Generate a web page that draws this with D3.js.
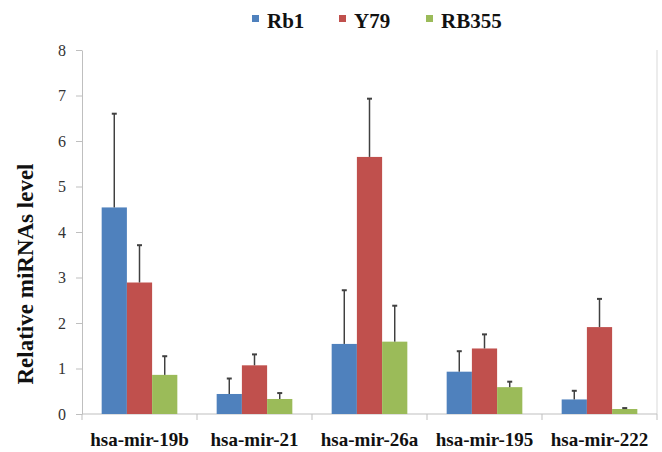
<!DOCTYPE html>
<html><head><meta charset="utf-8">
<script src="https://cdn.jsdelivr.net/npm/d3@7"></script>
<style>body{margin:0;background:#fff}svg{display:block}
svg text{font-family:"Liberation Serif","Times New Roman",serif;}
</style>
</head><body>
<svg id="c" width="662" height="452"></svg>
<script>
const categories = ["hsa-mir-19b","hsa-mir-21","hsa-mir-26a","hsa-mir-195","hsa-mir-222"];
const seriesNames = ["Rb1","Y79","RB355"];
const rb1 = [4.54, 0.44, 1.54, 0.93, 0.32];
const y79 = [2.89, 1.07, 5.65, 1.44, 1.91];
const rb355 = [0.86, 0.33, 1.59, 0.59, 0.11];
const rb1Err = [2.06, 0.34, 1.18, 0.45, 0.19];
const y79Err = [0.82, 0.24, 1.28, 0.31, 0.62];
const rb355Err = [0.41, 0.13, 0.79, 0.12, 0.02];
const yTicks = [0,1,2,3,4,5,6,7,8];
const colors = ["#4F81BD","#C0504D","#9BBB59"];

const series = [rb1, y79, rb355];
const errs = [rb1Err, y79Err, rb355Err];

const svg = d3.select("#c");
const m = {l:82, r:5, t:50, b:38};
const W = 662, H = 452;
const x0 = d3.scaleBand().domain(categories).range([m.l, W - m.r]).paddingInner(0).paddingOuter(0);
const x1 = d3.scaleBand().domain(seriesNames).range([0, x0.bandwidth()]).paddingInner(0).paddingOuter(0.78);
const y = d3.scaleLinear().domain([0, 8]).range([H - m.b, m.t]);

svg.append("line").attr("x1", W - m.r).attr("x2", W - m.r).attr("y1", y(8)).attr("y2", y(0))
  .attr("stroke", "#d9d9d9").attr("stroke-width", 1);

const ya = svg.append("g").attr("transform", `translate(${m.l},0)`)
  .call(d3.axisLeft(y).tickValues(yTicks).tickSize(6).tickSizeOuter(0).tickPadding(10));
ya.attr("font-family", null);
ya.select(".domain").attr("stroke", "#bfbfbf");
ya.selectAll(".tick line").attr("stroke", "#bfbfbf");
ya.selectAll("text").attr("font-size", 16).attr("fill", "#333");

const boundaries = categories.map((c) => x0(c)).concat([W - m.r]);
svg.append("line").attr("x1", m.l).attr("x2", W - m.r).attr("y1", y(0)).attr("y2", y(0))
  .attr("stroke", "#bfbfbf");
svg.selectAll(".xt").data(boundaries).enter().append("line")
  .attr("x1", d => d).attr("x2", d => d).attr("y1", y(0)).attr("y2", y(0) + 6)
  .attr("stroke", "#bfbfbf");
svg.selectAll(".xl").data(categories).enter().append("text")
  .attr("x", d => x0(d) + x0.bandwidth() / 2).attr("y", 446)
  .attr("text-anchor", "middle").attr("font-weight", "bold")
  .attr("font-size", 19).attr("fill", "#111").text(d => d);

seriesNames.forEach((s, si) => {
  const g = svg.append("g");
  g.selectAll("rect").data(categories).enter().append("rect")
    .attr("x", c => x0(c) + x1(s)).attr("width", x1.bandwidth())
    .attr("y", (c, i) => y(series[si][i])).attr("height", (c, i) => y(0) - y(series[si][i]))
    .attr("fill", colors[si]);
  const cx = c => x0(c) + x1(s) + x1.bandwidth() / 2;
  g.selectAll(".ev").data(categories).enter().append("line")
    .attr("x1", cx).attr("x2", cx)
    .attr("y1", (c, i) => y(series[si][i])).attr("y2", (c, i) => y(series[si][i] + errs[si][i]))
    .attr("stroke", "#404040").attr("stroke-width", 1.5);
  g.selectAll(".ec").data(categories).enter().append("line")
    .attr("x1", c => cx(c) - 2.5).attr("x2", c => cx(c) + 2.5)
    .attr("y1", (c, i) => y(series[si][i] + errs[si][i])).attr("y2", (c, i) => y(series[si][i] + errs[si][i]))
    .attr("stroke", "#404040").attr("stroke-width", 2);
});

svg.append("text").attr("transform", `translate(33,274) rotate(-90)`)
  .attr("text-anchor", "middle").attr("font-weight", "bold")
  .attr("font-size", 23).attr("fill", "#111").text("Relative miRNAs level");

const legX = [252, 339, 426];
const leg = svg.append("g");
seriesNames.forEach((s, i) => {
  leg.append("rect").attr("x", legX[i]).attr("y", 15).attr("width", 7).attr("height", 7).attr("fill", colors[i]);
  leg.append("text").attr("x", legX[i] + 15).attr("y", 27.5)
    .attr("font-weight", "bold").attr("font-size", 21).attr("fill", "#111").text(s);
});
</script>
</body></html>
